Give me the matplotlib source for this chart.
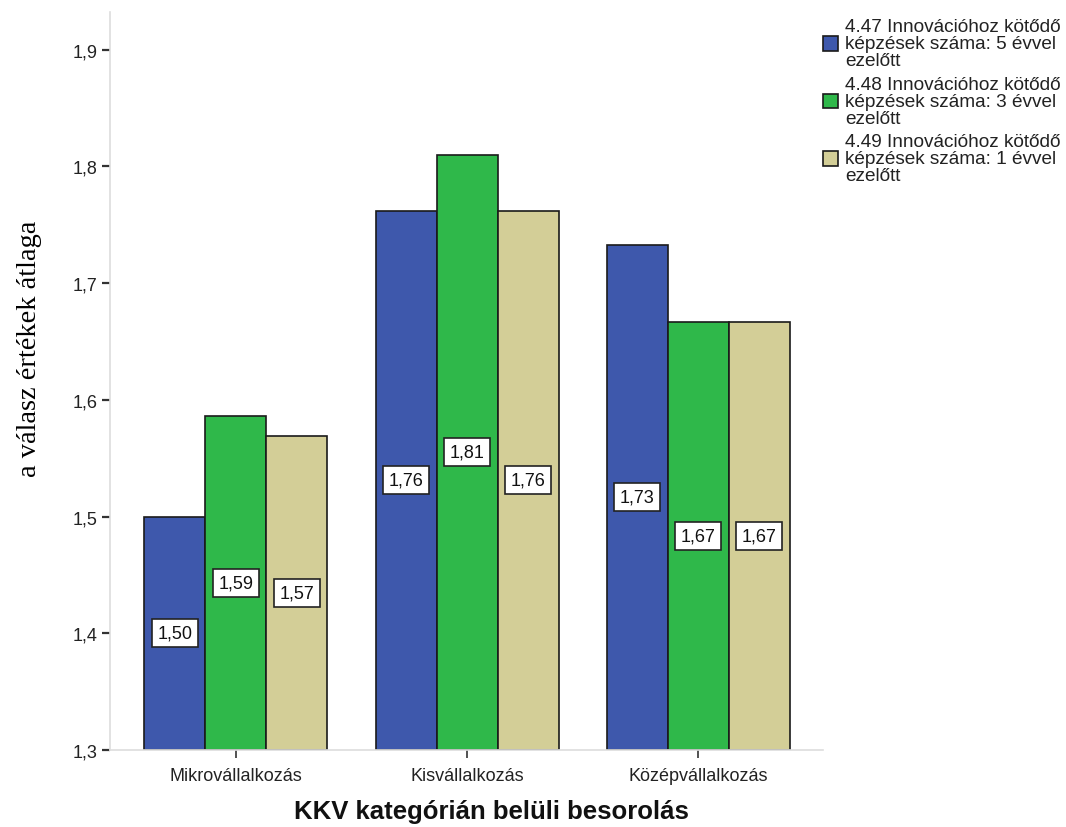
import matplotlib.pyplot as plt
import numpy as np

categories = ['Mikrovállalkozás', 'Kisvállalkozás', 'Középvállalkozás']
series_names = [
    '4.47 Innovációhoz kötődő\nképzések száma: 5 évvel\nezelőtt',
    '4.48 Innovációhoz kötődő\nképzések száma: 3 évvel\nezelőtt',
    '4.49 Innovációhoz kötődő\nképzések száma: 1 évvel\nezelőtt',
]
values_5y = [1.500, 1.762, 1.733]
values_3y = [1.586, 1.810, 1.667]
values_1y = [1.569, 1.762, 1.667]
colors = ['#3E58AC', '#2FB84A', '#D3CE97']

base = 1.3
y_ticks = [1.3, 1.4, 1.5, 1.6, 1.7, 1.8, 1.9]
y_labels = ['1,3', '1,4', '1,5', '1,6', '1,7', '1,8', '1,9']

plt.rcParams['font.family'] = ['Liberation Sans', 'DejaVu Sans']

fig = plt.figure(figsize=(10.66, 8.28), dpi=100)
ax = fig.add_axes([0.1032, 0.093, 0.6688, 0.891])

x = np.arange(len(categories))
width = 0.264
handles = []
for i, vals in enumerate([values_5y, values_3y, values_1y]):
    pos = x + (i - 1) * width
    heights = np.array(vals) - base
    bars = ax.bar(pos, heights, width, bottom=base, color=colors[i],
                  edgecolor='#1a1a1a', linewidth=1.2, label=series_names[i])
    handles.append(bars)
    for p, v in zip(pos, vals):
        ax.text(p, (base + v) / 2, f'{v:.2f}'.replace('.', ','),
                ha='center', va='center', fontsize=13, color='#111111',
                bbox=dict(boxstyle='square,pad=0.3', fc='white',
                          ec='#222222', lw=1.2))

ax.set_xlim(-0.545, 2.54)
ax.set_ylim(1.3, 1.932)
ax.set_yticks(y_ticks)
ax.set_yticklabels(y_labels)
ax.set_xticks(x)
ax.set_xticklabels(categories)

for s in ['top', 'right']:
    ax.spines[s].set_visible(False)
for s in ['left', 'bottom']:
    ax.spines[s].set_color('#dddddd')
    ax.spines[s].set_linewidth(1.2)

ax.tick_params(axis='y', direction='out', length=6, width=1.6,
               color='#333333', labelsize=13, labelcolor='#222222', pad=3)
ax.tick_params(axis='x', direction='out', length=6, width=1.2,
               color='#333333', labelsize=13, labelcolor='#222222', pad=6)

fig.text(30 / 1066, 1 - 349 / 828, 'a válasz értékek átlaga', rotation=90,
         ha='center', va='center', fontsize=20.5, family='Liberation Serif')
fig.text(491 / 1066, 1 - 812 / 828, 'KKV kategórián belüli besorolás',
         ha='center', va='center', fontsize=18.5, fontweight='bold',
         color='#111111')

leg = fig.legend(handles=handles, labels=series_names,
                 loc='upper left', bbox_to_anchor=(823 / 1066, 1 - 19 / 828),
                 frameon=False, fontsize=13.7, handlelength=0.8,
                 handleheight=0.8, handletextpad=0.35, labelspacing=0.35,
                 borderpad=0, borderaxespad=0)
for t in leg.get_texts():
    t.set_linespacing(1.0)
    t.set_color('#222222')

fig.savefig('out.png', dpi=100)
